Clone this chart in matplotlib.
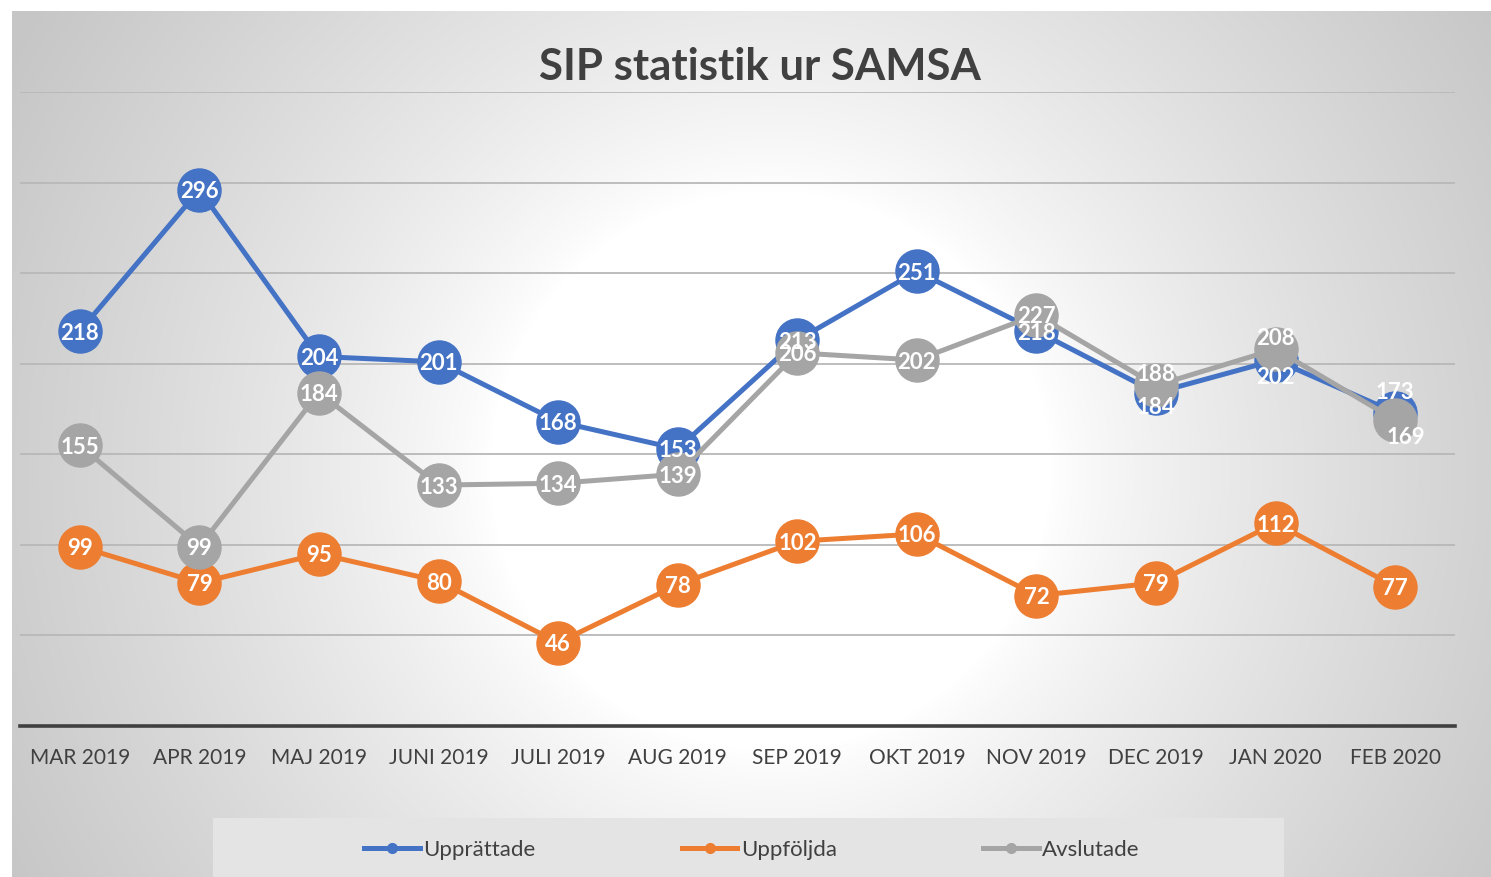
import numpy as np
import matplotlib.pyplot as plt
from matplotlib.lines import Line2D
from matplotlib.patches import Rectangle

months = ['MAR 2019', 'APR 2019', 'MAJ 2019', 'JUNI 2019', 'JULI 2019', 'AUG 2019',
          'SEP 2019', 'OKT 2019', 'NOV 2019', 'DEC 2019', 'JAN 2020', 'FEB 2020']
upprattade = [218, 296, 204, 201, 168, 153, 213, 251, 218, 184, 202, 173]
uppfoljda = [99, 79, 95, 80, 46, 78, 102, 106, 72, 79, 112, 77]
avslutade = [155, 99, 184, 133, 134, 139, 206, 202, 227, 188, 208, 169]

# label nudges (points) where markers overlap
blue_dy = [0, 0, 0, 0, 0, 0, 0, 0, 0, -9, -11, 16]
gray_dy = [0, 0, 0, 0, 0, 0, 0, 0, 0, 9, 9, -11]
gray_dx = [0, 0, 0, 0, 0, 0, 0, 0, 0, 0, 0, 8]

c_blue = '#4472C4'
c_orange = '#ED7D31'
c_gray = '#A5A5A5'
c_text = '#404040'

plt.rcParams['font.family'] = ['Lato', 'DejaVu Sans']

W, H = 1491, 877
fig = plt.figure(figsize=(W / 100, H / 100), dpi=100)

# radial gradient background of chart area
x0, y0 = 12, 11
bg = fig.add_axes([x0 / W, 0, 1 - x0 / W, (H - y0) / H])
yy, xx = np.mgrid[y0:H, x0:W]
d = np.hypot(xx - 770, yy - 470)
t = np.clip((d - 280) / 590, 0, 1) ** 0.8
v = (255 - 57 * t) / 255
bg.imshow(np.dstack([v, v, v]), aspect='auto', extent=[0, 1, 0, 1])
bg.axis('off')

# legend box
fig.add_artist(Rectangle((213 / W, 0), (1284 - 213) / W, (H - 818) / H,
                         transform=fig.transFigure, facecolor='#e4e4e4',
                         edgecolor='none', zorder=1))

ax = fig.add_axes([20 / W, (H - 726) / H, (1455 - 20) / W, (726 - 92) / H])
ax.set_facecolor('none')
x = np.arange(len(months))

ms = 31
lw = 3.6
ax.plot(x, upprattade, color=c_blue, lw=lw, marker='o', ms=ms, zorder=3)
ax.plot(x, uppfoljda, color=c_orange, lw=lw, marker='o', ms=ms, zorder=4)
ax.plot(x, avslutade, color=c_gray, lw=lw, marker='o', ms=ms, zorder=5)

lab = dict(color='white', fontsize=16, fontweight='bold', ha='center', va='center_baseline',
           zorder=10, textcoords='offset points')
for i in range(len(months)):
    ax.annotate(str(upprattade[i]), (x[i], upprattade[i]), xytext=(0, blue_dy[i]), **lab)
    ax.annotate(str(uppfoljda[i]), (x[i], uppfoljda[i]), xytext=(0, 0), **lab)
    ax.annotate(str(avslutade[i]), (x[i], avslutade[i]), xytext=(gray_dx[i], gray_dy[i]), **lab)

ax.set_xlim(-0.5, len(months) - 0.5)
ax.set_ylim(0, 350)
ax.set_yticks(np.arange(0, 351, 50))
ax.yaxis.grid(True, color='#b8b8b8', lw=1.3)
ax.set_axisbelow(True)
ax.tick_params(axis='y', length=0, labelleft=False)
ax.set_xticks(x)
ax.set_xticklabels(months, fontsize=15, color=c_text)
ax.tick_params(axis='x', length=0, pad=16)
for s in ['top', 'right', 'left']:
    ax.spines[s].set_visible(False)
ax.spines['bottom'].set_color(c_text)
ax.spines['bottom'].set_linewidth(2.6)
ax.spines['bottom'].set_zorder(6)

fig.text(760 / W, 1 - 64 / H, 'SIP statistik ur SAMSA', fontsize=31.5, fontweight='bold',
         color=c_text, ha='center', va='center_baseline')

handles = [Line2D([], [], color=c, lw=3.6, marker='o', ms=7) for c in (c_blue, c_orange, c_gray)]
leg = fig.legend(handles, ['Upprättade', 'Uppföljda', 'Avslutade'], loc='center',
                 bbox_to_anchor=(752 / W, 1 - 850 / H), ncol=3, frameon=False,
                 fontsize=16, handlelength=2.5, handletextpad=0.15, columnspacing=6.6)
for t_ in leg.get_texts():
    t_.set_color(c_text)
leg.set_zorder(2)

fig.savefig('out.png', dpi=100)
